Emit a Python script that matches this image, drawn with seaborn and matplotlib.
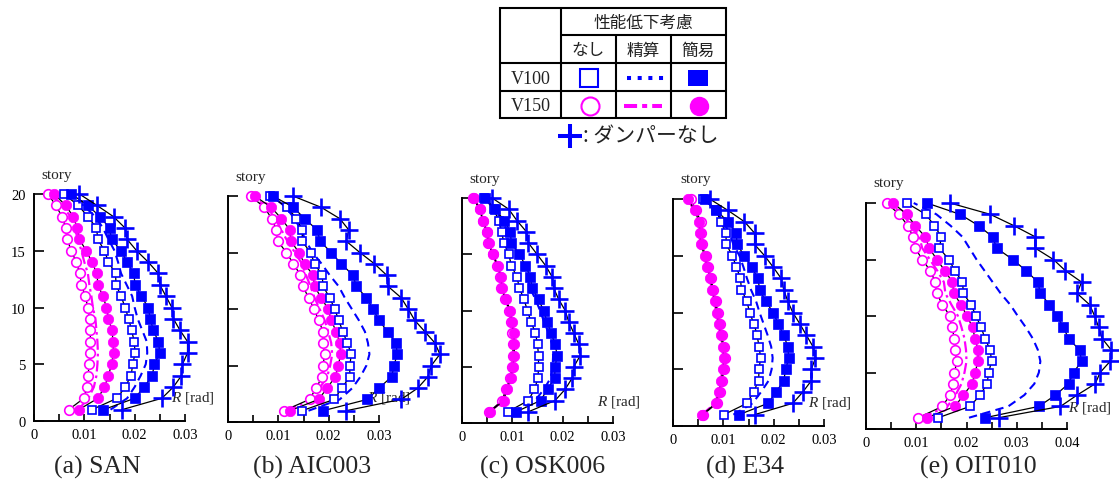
import matplotlib
matplotlib.use("Agg")
import matplotlib.pyplot as plt
from matplotlib.patches import Rectangle
from matplotlib.ticker import MultipleLocator, FuncFormatter
import seaborn as sns

# ---------------------------------------------------------------- data
stories = list(range(1, 21))

# (a) SAN  -- story drift angle R [rad], stories 1..20
san_v100_none = [0.0115, 0.0165, 0.0181, 0.0193, 0.0196, 0.0201, 0.0199, 0.0194, 0.0188, 0.0181,
                 0.0173, 0.0163, 0.0162, 0.0148, 0.0140, 0.0127, 0.0124, 0.0107, 0.0088, 0.0059]
san_v100_exact = [0.0152, 0.0185, 0.0200, 0.0212, 0.0222, 0.0225, 0.0224, 0.0215, 0.0206, 0.0200,
                  0.0195, 0.0184, 0.0173, 0.0167, 0.0160, 0.0148, 0.0137, 0.0122, 0.0098, 0.0068]
san_v100_simple = [0.0138, 0.0200, 0.0219, 0.0235, 0.0239, 0.0250, 0.0247, 0.0237, 0.0231, 0.0227,
                   0.0213, 0.0201, 0.0198, 0.0185, 0.0173, 0.0154, 0.0150, 0.0131, 0.0107, 0.0074]
san_v150_none = [0.0069, 0.0099, 0.0105, 0.0107, 0.0110, 0.0112, 0.0112, 0.0112, 0.0111, 0.0107,
                 0.0102, 0.0094, 0.0091, 0.0084, 0.0074, 0.0066, 0.0063, 0.0056, 0.0043, 0.0028]
san_v150_exact = [0.0088, 0.0108, 0.0119, 0.0124, 0.0126, 0.0127, 0.0126, 0.0124, 0.0122, 0.0117,
                  0.0114, 0.0110, 0.0107, 0.0100, 0.0094, 0.0088, 0.0080, 0.0073, 0.0055, 0.0035]
san_v150_simple = [0.0089, 0.0127, 0.0140, 0.0148, 0.0154, 0.0158, 0.0157, 0.0155, 0.0148, 0.0144,
                   0.0137, 0.0127, 0.0125, 0.0115, 0.0104, 0.0090, 0.0086, 0.0078, 0.0063, 0.0040]
san_no_damper = [0.0175, 0.0254, 0.0277, 0.0293, 0.0295, 0.0305, 0.0305, 0.0290, 0.0277, 0.0274,
                 0.0262, 0.0250, 0.0247, 0.0227, 0.0204, 0.0185, 0.0181, 0.0158, 0.0125, 0.0090]

# (b) AIC003
aic_v100_none = [0.0147, 0.0211, 0.0226, 0.0242, 0.0242, 0.0245, 0.0237, 0.0228, 0.0220, 0.0212,
                 0.0202, 0.0189, 0.0187, 0.0172, 0.0164, 0.0147, 0.0148, 0.0136, 0.0118, 0.0083]
aic_v100_exact = [0.0160, 0.0222, 0.0247, 0.0263, 0.0275, 0.0281, 0.0278, 0.0272, 0.0260, 0.0246,
                  0.0232, 0.0220, 0.0202, 0.0186, 0.0168, 0.0155, 0.0145, 0.0132, 0.0115, 0.0088]
aic_v100_simple = [0.0189, 0.0277, 0.0300, 0.0325, 0.0330, 0.0336, 0.0334, 0.0317, 0.0300, 0.0288,
                   0.0275, 0.0255, 0.0248, 0.0225, 0.0205, 0.0183, 0.0177, 0.0152, 0.0130, 0.0089]
aic_v150_none = [0.0111, 0.0162, 0.0175, 0.0187, 0.0189, 0.0192, 0.0189, 0.0189, 0.0180, 0.0171,
                 0.0160, 0.0149, 0.0144, 0.0130, 0.0116, 0.0099, 0.0096, 0.0087, 0.0072, 0.0045]
aic_v150_exact = [0.0115, 0.0168, 0.0182, 0.0197, 0.0203, 0.0207, 0.0205, 0.0199, 0.0192, 0.0182,
                  0.0172, 0.0164, 0.0155, 0.0147, 0.0133, 0.0118, 0.0106, 0.0094, 0.0078, 0.0048]
aic_v150_simple = [0.0123, 0.0180, 0.0197, 0.0213, 0.0219, 0.0224, 0.0222, 0.0215, 0.0205, 0.0199,
                   0.0185, 0.0172, 0.0169, 0.0152, 0.0141, 0.0125, 0.0123, 0.0106, 0.0086, 0.0053]
aic_no_damper = [0.0235, 0.0344, 0.0377, 0.0397, 0.0404, 0.0421, 0.0411, 0.0391, 0.0371, 0.0358,
                 0.0344, 0.0318, 0.0315, 0.0291, 0.0262, 0.0235, 0.0240, 0.0222, 0.0185, 0.0129]

# (c) OSK006
osk_v100_none = [0.0091, 0.0132, 0.0144, 0.0151, 0.0152, 0.0152, 0.0150, 0.0146, 0.0137, 0.0130,
                 0.0123, 0.0114, 0.0109, 0.0098, 0.0093, 0.0083, 0.0079, 0.0073, 0.0063, 0.0044]
osk_v100_exact = [0.0100, 0.0145, 0.0163, 0.0176, 0.0180, 0.0181, 0.0179, 0.0172, 0.0163, 0.0155,
                  0.0146, 0.0135, 0.0130, 0.0122, 0.0112, 0.0095, 0.0090, 0.0080, 0.0064, 0.0046]
osk_v100_simple = [0.0108, 0.0156, 0.0170, 0.0184, 0.0185, 0.0189, 0.0185, 0.0177, 0.0169, 0.0162,
                   0.0152, 0.0139, 0.0136, 0.0126, 0.0114, 0.0098, 0.0096, 0.0084, 0.0066, 0.0046]
osk_v150_none = [0.0054, 0.0080, 0.0087, 0.0096, 0.0099, 0.0101, 0.0102, 0.0100, 0.0097, 0.0094,
                 0.0086, 0.0078, 0.0076, 0.0070, 0.0061, 0.0052, 0.0049, 0.0041, 0.0035, 0.0022]
osk_v150_exact = [0.0055, 0.0082, 0.0088, 0.0097, 0.0100, 0.0102, 0.0102, 0.0101, 0.0098, 0.0094,
                  0.0087, 0.0079, 0.0077, 0.0070, 0.0061, 0.0053, 0.0049, 0.0042, 0.0036, 0.0023]
osk_v150_simple = [0.0056, 0.0083, 0.0089, 0.0098, 0.0101, 0.0104, 0.0104, 0.0103, 0.0099, 0.0096,
                   0.0087, 0.0079, 0.0078, 0.0071, 0.0062, 0.0053, 0.0050, 0.0042, 0.0036, 0.0023]
osk_no_damper = [0.0132, 0.0185, 0.0205, 0.0219, 0.0222, 0.0235, 0.0232, 0.0222, 0.0212, 0.0205,
                 0.0192, 0.0182, 0.0179, 0.0166, 0.0149, 0.0132, 0.0128, 0.0109, 0.0093, 0.0060]

# (d) E34
e34_v100_none = [0.0101, 0.0147, 0.0160, 0.0170, 0.0171, 0.0174, 0.0171, 0.0167, 0.0161, 0.0152,
                 0.0147, 0.0136, 0.0134, 0.0126, 0.0118, 0.0106, 0.0105, 0.0095, 0.0086, 0.0060]
e34_v100_exact = [0.0120, 0.0158, 0.0175, 0.0190, 0.0196, 0.0198, 0.0195, 0.0188, 0.0180, 0.0172,
                  0.0165, 0.0155, 0.0147, 0.0140, 0.0132, 0.0120, 0.0112, 0.0100, 0.0085, 0.0062]
e34_v100_simple = [0.0131, 0.0189, 0.0205, 0.0220, 0.0224, 0.0230, 0.0228, 0.0220, 0.0209, 0.0199,
                   0.0184, 0.0172, 0.0169, 0.0156, 0.0142, 0.0127, 0.0126, 0.0109, 0.0086, 0.0063]
e34_v150_none = [0.0060, 0.0087, 0.0094, 0.0098, 0.0101, 0.0103, 0.0101, 0.0097, 0.0093, 0.0089,
                 0.0085, 0.0080, 0.0076, 0.0070, 0.0065, 0.0057, 0.0056, 0.0055, 0.0046, 0.0035]
e34_v150_exact = [0.0057, 0.0084, 0.0090, 0.0095, 0.0098, 0.0100, 0.0098, 0.0094, 0.0090, 0.0086,
                  0.0082, 0.0077, 0.0073, 0.0067, 0.0062, 0.0054, 0.0053, 0.0050, 0.0042, 0.0029]
e34_v150_simple = [0.0058, 0.0085, 0.0091, 0.0096, 0.0099, 0.0101, 0.0099, 0.0095, 0.0091, 0.0087,
                   0.0083, 0.0078, 0.0074, 0.0068, 0.0063, 0.0055, 0.0054, 0.0052, 0.0043, 0.0030]
e34_no_damper = [0.0162, 0.0238, 0.0258, 0.0275, 0.0275, 0.0283, 0.0278, 0.0265, 0.0252, 0.0238,
                 0.0228, 0.0220, 0.0215, 0.0199, 0.0182, 0.0162, 0.0162, 0.0142, 0.0109, 0.0073]

# (e) OIT010
oit_v100_none = [0.0144, 0.0207, 0.0227, 0.0241, 0.0244, 0.0250, 0.0247, 0.0237, 0.0229, 0.0219,
                 0.0209, 0.0194, 0.0192, 0.0177, 0.0165, 0.0146, 0.0150, 0.0136, 0.0119, 0.0081]
oit_v100_exact = [0.0205, 0.0283, 0.0315, 0.0335, 0.0344, 0.0347, 0.0342, 0.0332, 0.0318, 0.0302,
                  0.0287, 0.0268, 0.0252, 0.0236, 0.0220, 0.0206, 0.0192, 0.0168, 0.0140, 0.0095]
oit_v100_simple = [0.0237, 0.0344, 0.0377, 0.0403, 0.0413, 0.0429, 0.0425, 0.0403, 0.0393, 0.0380,
                   0.0365, 0.0347, 0.0342, 0.0319, 0.0292, 0.0260, 0.0252, 0.0224, 0.0187, 0.0121]
oit_v150_none = [0.0104, 0.0152, 0.0167, 0.0174, 0.0176, 0.0181, 0.0177, 0.0176, 0.0171, 0.0167,
                 0.0152, 0.0141, 0.0138, 0.0128, 0.0112, 0.0098, 0.0094, 0.0083, 0.0066, 0.0041]
oit_v150_exact = [0.0110, 0.0162, 0.0178, 0.0190, 0.0196, 0.0200, 0.0199, 0.0196, 0.0190, 0.0183,
                  0.0170, 0.0158, 0.0155, 0.0142, 0.0127, 0.0112, 0.0106, 0.0090, 0.0073, 0.0047]
oit_v150_simple = [0.0121, 0.0177, 0.0194, 0.0211, 0.0217, 0.0223, 0.0223, 0.0217, 0.0212, 0.0201,
                   0.0189, 0.0175, 0.0172, 0.0157, 0.0141, 0.0126, 0.0118, 0.0098, 0.0081, 0.0054]
oit_no_damper = [0.0264, 0.0387, 0.0420, 0.0456, 0.0466, 0.0486, 0.0488, 0.0470, 0.0463, 0.0455,
                 0.0445, 0.0420, 0.0429, 0.0397, 0.0373, 0.0337, 0.0337, 0.0294, 0.0247, 0.0167]

panel_titles = ["(a) SAN", "(b) AIC003", "(c) OSK006", "(d) E34", "(e) OIT010"]
x_max = [0.03, 0.03, 0.03, 0.03, 0.04]
x_tick_labels = [["0", "0.01", "0.02", "0.03"]] * 4 + [["0", "0.01", "0.02", "0.03", "0.04"]]
y_tick_labels = ["0", "5", "10", "15", "20"]
r_label_pos = [(0.0272, 2.1), (0.0276, 2.2), (0.0268, 1.96), (0.0268, 2.1), (0.0402, 1.95)]

panels = [
    dict(v100_none=san_v100_none, v100_exact=san_v100_exact, v100_simple=san_v100_simple,
         v150_none=san_v150_none, v150_exact=san_v150_exact, v150_simple=san_v150_simple,
         none=san_no_damper),
    dict(v100_none=aic_v100_none, v100_exact=aic_v100_exact, v100_simple=aic_v100_simple,
         v150_none=aic_v150_none, v150_exact=aic_v150_exact, v150_simple=aic_v150_simple,
         none=aic_no_damper),
    dict(v100_none=osk_v100_none, v100_exact=osk_v100_exact, v100_simple=osk_v100_simple,
         v150_none=osk_v150_none, v150_exact=osk_v150_exact, v150_simple=osk_v150_simple,
         none=osk_no_damper),
    dict(v100_none=e34_v100_none, v100_exact=e34_v100_exact, v100_simple=e34_v100_simple,
         v150_none=e34_v150_none, v150_exact=e34_v150_exact, v150_simple=e34_v150_simple,
         none=e34_no_damper),
    dict(v100_none=oit_v100_none, v100_exact=oit_v100_exact, v100_simple=oit_v100_simple,
         v150_none=oit_v150_none, v150_exact=oit_v150_exact, v150_simple=oit_v150_simple,
         none=oit_no_damper),
]

# ---------------------------------------------------------------- style
sns.set_style("ticks")
plt.rcParams["font.family"] = ["Liberation Serif", "DejaVu Serif"]
plt.rcParams["mathtext.fontset"] = "custom"
plt.rcParams["mathtext.rm"] = "Liberation Serif"
plt.rcParams["mathtext.it"] = "Liberation Serif:italic"

BLUE = "#0000ff"
MAGENTA = "#ff00ff"
JP = ["Noto Sans CJK JP", "DejaVu Sans"]

W, H = 1119, 485
fig = plt.figure(figsize=(W / 100, H / 100), dpi=100)

# axes boxes in pixels: left, top, right, bottom
boxes = [(34, 195, 185, 422), (228, 197, 379, 423), (462, 199, 613, 424),
         (673, 200, 824, 427), (866, 204, 1067, 430)]
caption_x = [97, 312, 543, 745, 978]

line_kw = dict(sort=False, estimator=None, clip_on=False)
styles = {
    "v100_exact": dict(color=BLUE, lw=1.5, linestyle=(0, (4, 2.6)), zorder=3),
    "v150_exact": dict(color=MAGENTA, lw=1.6, linestyle=(0, (5, 1.8, 1.2, 1.8)), zorder=3),
    "v150_none": dict(color="black", lw=0.9, marker="o", ms=6.9, mfc="white",
                      mec=MAGENTA, mew=1.2, zorder=4),
    "v150_simple": dict(color="black", lw=0.9, marker="o", ms=7.5, mfc=MAGENTA,
                        mec=MAGENTA, mew=0.5, zorder=5),
    "v100_none": dict(color="black", lw=0.9, marker="s", ms=6.3, mfc="white",
                      mec=BLUE, mew=1.2, zorder=6),
    "v100_simple": dict(color="black", lw=0.9, marker="s", ms=6.5, mfc=BLUE,
                        mec=BLUE, mew=0.5, zorder=7),
    "none": dict(color="black", lw=0.9, marker="+", ms=12.5, mec=BLUE, mew=1.9, zorder=8),
}

for i, (panel, box) in enumerate(zip(panels, boxes)):
    l, t, r, b = box
    ax = fig.add_axes([l / W, (H - b) / H, (r - l) / W, (b - t) / H])
    ax.set_facecolor("none")
    for key in ["v100_exact", "v150_exact", "v150_none", "v150_simple",
                "v100_none", "v100_simple", "none"]:
        sns.lineplot(x=panel[key], y=stories, ax=ax, **line_kw, **styles[key])

    ax.set_xlim(0, x_max[i])
    ax.set_ylim(0, 20)
    ax.set_xlabel("")
    ax.set_ylabel("")
    for s in ["top", "right"]:
        ax.spines[s].set_visible(False)
    for s in ["left", "bottom"]:
        ax.spines[s].set_linewidth(1.4)
        ax.spines[s].set_color("black")

    ax.xaxis.set_major_locator(MultipleLocator(0.01))
    ax.xaxis.set_minor_locator(MultipleLocator(0.005))
    labels = x_tick_labels[i]
    ax.xaxis.set_major_formatter(FuncFormatter(
        lambda v, p, labels=labels: labels[int(round(v / 0.01))] if round(v / 0.01) < len(labels) else ""))
    ax.set_yticks([0, 5, 10, 15, 20])
    if i == 0:
        ax.set_yticklabels(y_tick_labels)
    else:
        ax.set_yticklabels([])
    ax.tick_params(axis="both", which="both", direction="in", width=1.2,
                   color="black", labelsize=10.5, labelcolor="black")
    ax.tick_params(axis="x", which="both", length=5, pad=5)
    ax.tick_params(axis="y", length=7.5, pad=6)

    ax.text(23 / (r - l), 1 + 20 / (b - t), "story", transform=ax.transAxes,
            ha="center", va="center", fontsize=11)
    rx, ry = r_label_pos[i]
    ax.text(rx, ry, r"$R$ [rad]", ha="left", va="center", fontsize=11, zorder=2)

# ---------------------------------------------------------------- captions and legend table
ov = fig.add_axes([0, 0, 1, 1])
ov.set_xlim(0, W)
ov.set_ylim(H, 0)
ov.axis("off")
ov.set_facecolor("none")

for cx, title in zip(caption_x, panel_titles):
    ov.text(cx, 467, title, ha="center", va="center", fontsize=18.5)

tl, tr, tt, tb = 500, 726, 9, 119
c1, c2, c3 = 561, 616, 671
r1, r2, r3 = 36, 64, 92
grid_lw = 1.5
ov.add_patch(Rectangle((tl, tt), tr - tl, tb - tt, fill=False, lw=grid_lw, ec="black"))
ov.plot([c1, c1], [tt, tb], color="black", lw=grid_lw)
ov.plot([c2, c2], [r1, tb], color="black", lw=grid_lw)
ov.plot([c3, c3], [r1, tb], color="black", lw=grid_lw)
ov.plot([c1, tr], [r1, r1], color="black", lw=grid_lw)
ov.plot([tl, tr], [r2, r2], color="black", lw=grid_lw)
ov.plot([tl, tr], [r3, r3], color="black", lw=grid_lw)

txt = "#222222"
ov.text((c1 + tr) / 2, (tt + r1) / 2 + 1, "性能低下考慮", family=JP, fontsize=12,
        ha="center", va="center", color=txt)
for cx, s in zip([(c1 + c2) / 2, (c2 + c3) / 2, (c3 + tr) / 2], ["なし", "精算", "簡易"]):
    ov.text(cx, (r1 + r2) / 2 + 1, s, family=JP, fontsize=12, ha="center", va="center", color=txt)
ov.text((tl + c1) / 2, (r2 + r3) / 2 + 1, "V100", fontsize=13, ha="center", va="center", color=txt)
ov.text((tl + c1) / 2, (r3 + tb) / 2 + 1, "V150", fontsize=13, ha="center", va="center", color=txt)

ym1 = (r2 + r3) / 2 + 1
ym2 = (r3 + tb) / 2 + 1
ov.plot([(c1 + c2) / 2], [ym1], marker="s", ms=13, mfc="white", mec=BLUE, mew=1.5)
ov.plot([627, 664], [ym1, ym1], color=BLUE, lw=2.9, linestyle=(0, (1, 1.65)))
ov.add_patch(Rectangle((688, ym1 - 8), 20, 16, color=BLUE, lw=0))
ov.plot([(c1 + c2) / 2 + 1], [ym2], marker="o", ms=13, mfc="white", mec=MAGENTA, mew=1.5)
ov.plot([624, 662], [ym2, ym2], color=MAGENTA, lw=2.9, linestyle=(0, (3.25, 1.25, 1.25, 1.25)))
ov.plot([698.5], [ym2], marker="o", ms=14, mfc=MAGENTA, mec=MAGENTA, mew=0)

ov.plot([570], [137], marker="+", ms=17, mec=BLUE, mew=2.9)
ov.text(583, 137, ": ダンパーなし", family=JP, fontsize=15, ha="left", va="center", color=txt)

fig.savefig("out.png", dpi=100)
